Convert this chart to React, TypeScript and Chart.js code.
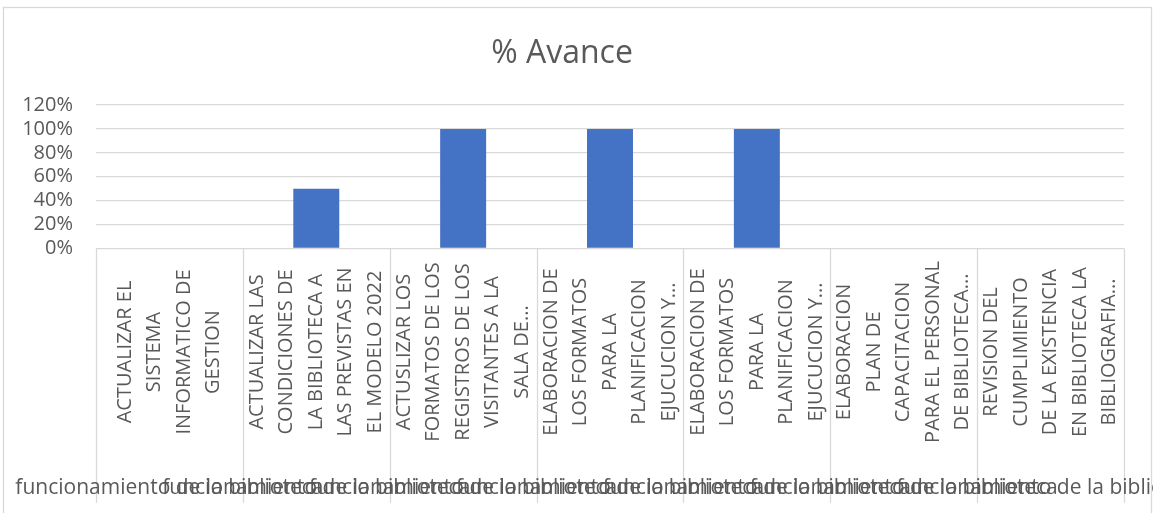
import React, { useEffect, useRef } from "react";
import { Chart, registerables } from "chart.js";

Chart.register(...registerables);

const title = "% Avance";

const categories: string[][] = [
  ["ACTUALIZAR EL", "SISTEMA", "INFORMATICO DE", "GESTION"],
  ["ACTUALIZAR LAS", "CONDICIONES DE", "LA BIBLIOTECA A", "LAS PREVISTAS EN", "EL MODELO 2022"],
  ["ACTUSLIZAR LOS", "FORMATOS DE LOS", "REGISTROS DE LOS", "VISITANTES A LA", "SALA DE..."],
  ["ELABORACION DE", "LOS FORMATOS", "PARA LA", "PLANIFICACION", "EJUCUCION Y..."],
  ["ELABORACION DE", "LOS FORMATOS", "PARA LA", "PLANIFICACION", "EJUCUCION Y..."],
  ["ELABORACION", "PLAN DE", "CAPACITACION", "PARA EL PERSONAL", "DE BIBLIOTECA..."],
  ["REVISION DEL", "CUMPLIMIENTO", "DE LA EXISTENCIA", "EN BIBLIOTECA LA", "BIBLIOGRAFIA..."],
];

const groups: string[] = [
  "funcionamiento de la biblioteca",
  "funcionamiento de la biblioteca",
  "funcionamiento de la biblioteca",
  "funcionamiento de la biblioteca",
  "funcionamiento de la biblioteca",
  "funcionamiento de la biblioteca",
  "funcionamiento de la biblioteca",
];

const avance: number[] = [0, 0.5, 1, 1, 1, 0, 0];

const FONT = "'Open Sans', 'Noto Sans', sans-serif";
const TEXT = "#595959";
const GRID = "#d9d9d9";
const BAR = "#4472C4";

const W = 1153;
const H = 513;

const labelsPlugin = {
  id: "excelLabels",
  afterDraw(chart: any) {
    const ctx = chart.ctx as CanvasRenderingContext2D;
    const xs = chart.scales.x;
    const area = chart.chartArea;
    const labels = chart.data.labels as string[][];
    const n = labels.length;
    const step = n > 1 ? xs.getPixelForValue(1) - xs.getPixelForValue(0) : xs.width;
    ctx.save();
    // chart border
    ctx.strokeStyle = GRID;
    ctx.lineWidth = 1.3;
    ctx.strokeRect(3.5, 7.5, W - 5, H + 10);
    // category dividers
    for (let i = 0; i <= n; i++) {
      const px = i < n ? xs.getPixelForValue(i) - step / 2 : xs.getPixelForValue(n - 1) + step / 2;
      ctx.beginPath();
      ctx.moveTo(Math.round(px) + 0.5, area.bottom);
      ctx.lineTo(Math.round(px) + 0.5, 503);
      ctx.stroke();
    }
    ctx.fillStyle = TEXT;
    // inner rotated labels
    ctx.font = `20px ${FONT}`;
    ctx.textAlign = "center";
    ctx.textBaseline = "middle";
    const lineGap = 29.5;
    for (let i = 0; i < n; i++) {
      const cx = xs.getPixelForValue(i);
      const lines = labels[i];
      ctx.save();
      ctx.translate(cx, 352);
      ctx.rotate(-Math.PI / 2);
      lines.forEach((ln, j) => {
        ctx.fillText(ln, 0, (j - (lines.length - 1) / 2) * lineGap);
      });
      ctx.restore();
    }
    // outer group labels
    ctx.font = `21px ${FONT}`;
    for (let i = 0; i < n; i++) {
      const cx = xs.getPixelForValue(i);
      ctx.fillText(groups[i], cx, 488);
    }
    ctx.restore();
  },
};

export default function App() {
  const ref = useRef<HTMLCanvasElement | null>(null);
  useEffect(() => {
    if (!ref.current) return;
    const chart = new Chart(ref.current, {
      type: "bar",
      data: {
        labels: categories,
        datasets: [
          {
            label: "% Avance",
            data: avance,
            backgroundColor: BAR,
            borderWidth: 0,
            categoryPercentage: 1,
            barPercentage: 0.313,
          },
        ],
      },
      options: {
        responsive: false,
        animation: false,
        layout: { padding: { top: 0, left: 0, right: 29, bottom: 0 } },
        plugins: {
          legend: { display: false },
          tooltip: { enabled: false },
          title: {
            display: true,
            text: title,
            color: TEXT,
            font: { family: FONT, size: 32, weight: "normal" as any, lineHeight: 1.2 },
            padding: { top: 35, bottom: 31.6 },
          },
        },
        scales: {
          x: {
            ticks: { display: false },
            grid: { display: false },
            border: { display: false },
            afterFit(scale: any) {
              scale.height = H - 248.5;
            },
          },
          y: {
            min: 0,
            max: 1.2,
            ticks: {
              stepSize: 0.2,
              autoSkip: false,
              color: TEXT,
              font: { family: FONT, size: 20 },
              padding: 23,
              callback: (v: any) => `${Math.round(Number(v) * 100)}%`,
            },
            grid: { color: GRID, lineWidth: 1.3, drawTicks: false },
            border: { display: false },
            afterFit(scale: any) {
              scale.width = 96;
            },
          },
        },
      },
      plugins: [labelsPlugin],
    });
    return () => chart.destroy();
  }, []);
  return (
    <div style={{ position: "absolute", left: 0, top: 0, width: W, height: H, background: "#fff" }}>
      <canvas ref={ref} width={W} height={H} style={{ display: "block" }} />
    </div>
  );
}
